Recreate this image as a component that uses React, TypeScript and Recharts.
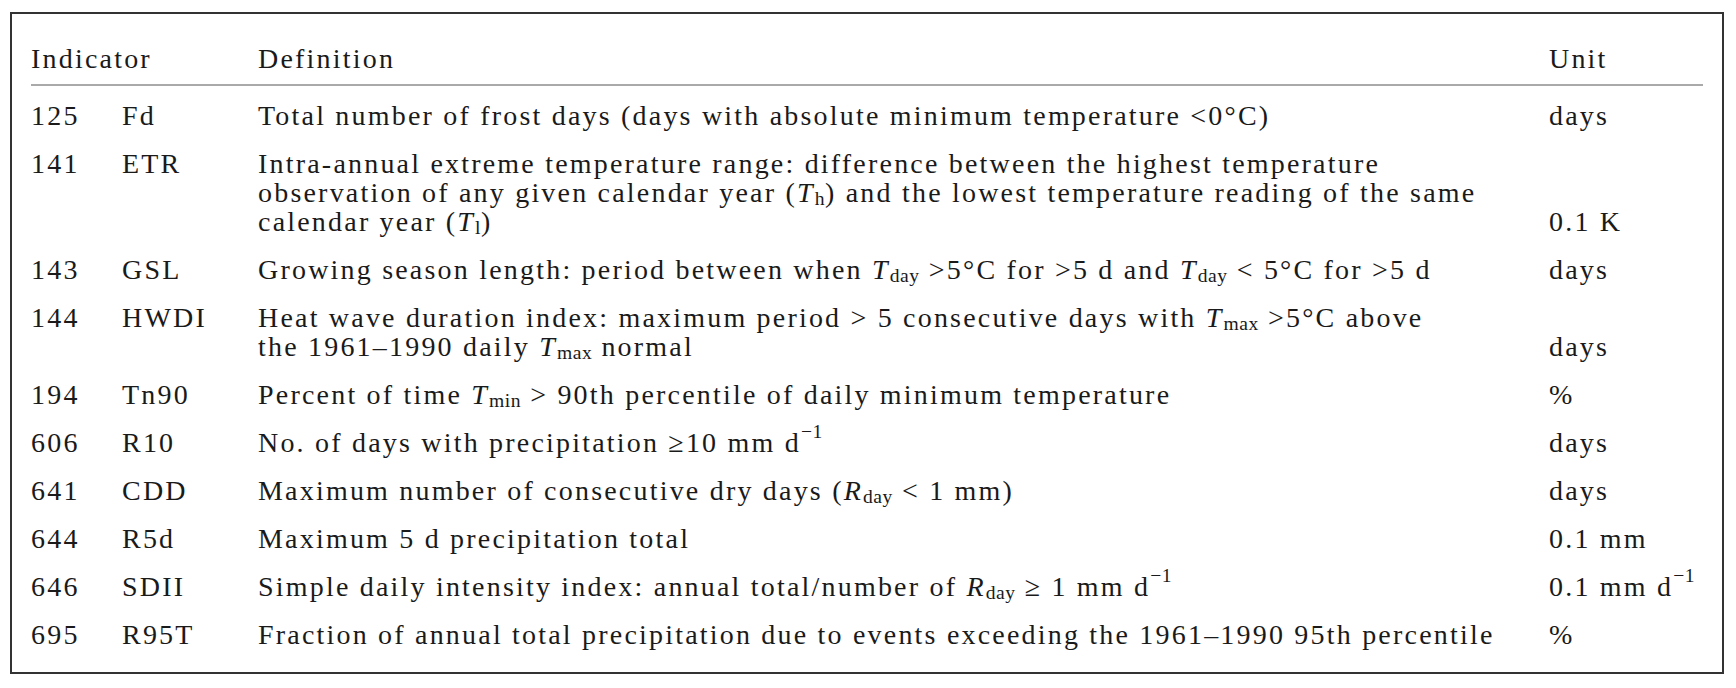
import React from 'react';
import { ScatterChart, Scatter, XAxis, YAxis } from 'recharts';

type Seg = [string, string?];

const headers = ['Indicator', 'Definition', 'Unit'];
const ids = ['125', '141', '143', '144', '194', '606', '641', '644', '646', '695'];
const codes = ['Fd', 'ETR', 'GSL', 'HWDI', 'Tn90', 'R10', 'CDD', 'R5d', 'SDII', 'R95T'];
const definitions: Seg[][][] = [
  [[['Total number of frost days (days with absolute minimum temperature <0°C)']]],
  [
    [['Intra-annual extreme temperature range: difference between the highest temperature']],
    [['observation of any given calendar year ('], ['T', 'i'], ['h', 'sub'], [') and the lowest temperature reading of the same']],
    [['calendar year ('], ['T', 'i'], ['l', 'sub'], [')']],
  ],
  [[['Growing season length: period between when '], ['T', 'i'], ['day', 'sub'], [' >5°C for >5 d and '], ['T', 'i'], ['day', 'sub'], [' < 5°C for >5 d']]],
  [
    [['Heat wave duration index: maximum period > 5 consecutive days with '], ['T', 'i'], ['max', 'sub'], [' >5°C above']],
    [['the 1961–1990 daily '], ['T', 'i'], ['max', 'sub'], [' normal']],
  ],
  [[['Percent of time '], ['T', 'i'], ['min', 'sub'], [' > 90th percentile of daily minimum temperature']]],
  [[['No. of days with precipitation ≥10 mm d'], ['−1', 'sup']]],
  [[['Maximum number of consecutive dry days ('], ['R', 'i'], ['day', 'sub'], [' < 1 mm)']]],
  [[['Maximum 5 d precipitation total']]],
  [[['Simple daily intensity index: annual total/number of '], ['R', 'i'], ['day', 'sub'], [' ≥ 1 mm d'], ['−1', 'sup']]],
  [[['Fraction of annual total precipitation due to events exceeding the 1961–1990 95th percentile']]],
];
const units: Seg[][] = [
  [['days']], [['0.1 K']], [['days']], [['days']], [['%']], [['days']], [['days']], [['0.1 mm']],
  [['0.1 mm d'], ['−1', 'sup']], [['%']],
];

const W = 1736, H = 688;
const FS = 28;
const LS = 2.2;
const COLX = [31, 122, 258, 1549];
const FIRST_Y = 115, ROW_GAP = 48, LINE_GAP = 29;

const rows = (() => {
  let y = FIRST_Y;
  return ids.map((id, i) => {
    const r = { id, code: codes[i], lines: definitions[i], unit: units[i], x: COLX[0], y };
    y += (definitions[i].length - 1) * LINE_GAP + ROW_GAP;
    return r;
  });
})();

const renderSegs = (segs: Seg[]) => {
  let off = 0;
  return segs.map(([t, s], k) => {
    const small = s === 'sub' || s === 'sup';
    const target = s === 'sub' ? 6 : s === 'sup' ? -11 : 0;
    const dy = target - off;
    off = target;
    return (
      <tspan key={k} dy={dy} fontStyle={s === 'i' ? 'italic' : undefined}
        fontSize={small ? FS * 0.7 : undefined} letterSpacing={small ? 0.5 : undefined}>{t}</tspan>
    );
  });
};

const txt = {
  fontFamily: '"Liberation Serif", serif', fontSize: FS, fill: '#1a1a1a',
  dominantBaseline: 'central' as const, letterSpacing: LS,
};

const RowShape = (props: any) => {
  const { cx, cy, payload } = props;
  const dx = (c: number) => cx + (c - COLX[0]);
  const n = payload.lines.length;
  return (
    <g>
      <text x={dx(COLX[0])} y={cy} {...txt}>{payload.id}</text>
      <text x={dx(COLX[1])} y={cy} {...txt}>{payload.code}</text>
      {payload.lines.map((l: Seg[], j: number) => (
        <text key={j} x={dx(COLX[2])} y={cy + j * LINE_GAP} {...txt}>{renderSegs(l)}</text>
      ))}
      <text x={dx(COLX[3])} y={cy + (n - 1) * LINE_GAP} {...txt}>{renderSegs(payload.unit)}</text>
    </g>
  );
};

export default function App() {
  return (
    <div style={{ margin: -8, width: W, height: H, background: '#fff' }}>
      <ScatterChart width={W} height={H} margin={{ top: 0, right: 0, bottom: 0, left: 0 }}>
        <XAxis type="number" dataKey="x" domain={[0, W]} hide />
        <YAxis type="number" dataKey="y" domain={[0, H]} reversed hide />
        <rect x={11} y={13} width={1712} height={660} fill="none" stroke="#333" strokeWidth={2} />
        <text x={COLX[0]} y={58} {...txt}>{headers[0]}</text>
        <text x={COLX[2]} y={58} {...txt}>{headers[1]}</text>
        <text x={COLX[3]} y={58} {...txt}>{headers[2]}</text>
        <line x1={31} x2={1703} y1={85} y2={85} stroke="#555" strokeWidth={1} />
        <Scatter data={rows} shape={<RowShape />} isAnimationActive={false} />
      </ScatterChart>
    </div>
  );
}
